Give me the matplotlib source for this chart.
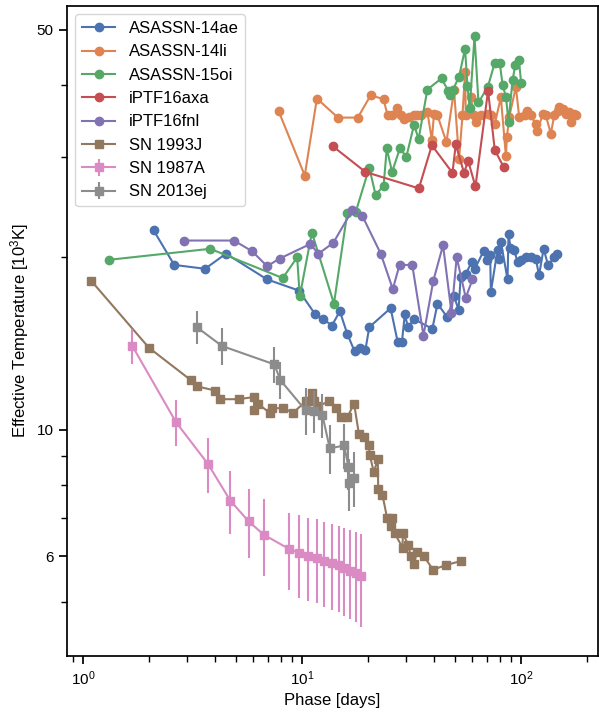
import numpy as np
import matplotlib
matplotlib.use("Agg")
import matplotlib.pyplot as plt
from matplotlib.ticker import FixedLocator, NullFormatter

plt.rcParams['font.family'] = ['Liberation Sans', 'DejaVu Sans']
plt.rcParams['mathtext.fontset'] = 'custom'
plt.rcParams['mathtext.rm'] = 'Liberation Sans'
plt.rcParams['mathtext.it'] = 'Liberation Sans:italic'

# phase [days], temperature [10^3 K]
asassn14ae_t = [2.10, 2.61, 3.61, 4.50, 6.93, 9.67, 11.5, 12.5, 13.7, 14.9, 16.1, 17.4, 18.5, 19.5, 20.3,
                25.4, 27.4, 28.6, 29.5, 30.5, 32.5, 39.4, 41.6, 46.2, 49.5, 51.9, 53.1, 56.0, 59.5, 61.6,
                67.5, 69.9, 72.4, 72.9, 78.2, 79.6, 81.0, 86.9, 87.8, 89.6, 93.2, 96.6, 100, 105, 111,
                117, 121, 127, 133, 142, 146]
asassn14ae_T = [22.3, 19.4, 19.1, 20.3, 18.3, 17.5, 15.9, 15.6, 15.2, 16.1, 14.7, 13.7, 13.9, 13.8, 15.1,
                16.3, 14.2, 14.2, 15.9, 15.1, 15.6, 15.0, 16.6, 15.7, 17.1, 16.2, 18.5, 18.7, 19.6, 19.1,
                20.5, 19.8, 20.2, 17.4, 20.6, 19.9, 21.3, 18.3, 22.0, 20.8, 20.6, 19.6, 19.8, 20.0, 20.0,
                19.9, 18.6, 20.7, 19.4, 20.0, 20.3]

asassn14li_t = [7.83, 10.3, 11.7, 14.6, 18.0, 20.6, 23.6, 24.6, 25.8, 27.3, 28.2, 29.3, 30.9, 32.5, 33.7,
                34.9, 37.4, 39.2, 40.1, 41.6, 45.7, 49.5, 52.2, 54.1, 55.6, 56.0, 59.0, 61.1, 62.2, 65.6,
                70.4, 72.9, 76.0, 81.0, 85.4, 86.3, 88.4, 94.9, 98.2, 104, 107, 111, 117, 119, 126,
                130, 137, 142, 147, 150, 155, 161, 166, 169, 175, 178]
asassn14li_T = [36.0, 27.8, 37.9, 35.1, 35.1, 38.4, 37.8, 35.4, 35.4, 36.5, 35.5, 34.9, 35.2, 35.4, 35.4,
                35.4, 35.9, 32.1, 35.6, 35.4, 31.8, 39.2, 29.7, 35.4, 42.2, 35.4, 38.1, 35.4, 34.5, 35.4,
                35.6, 35.4, 34.2, 38.1, 30.1, 32.4, 35.2, 39.7, 35.2, 35.4, 36.1, 35.4, 34.2, 33.3, 35.6,
                35.4, 32.9, 35.4, 36.1, 36.7, 36.4, 35.6, 35.9, 34.5, 35.6, 35.4]

asassn15oi_t = [1.31, 3.81, 8.17, 9.51, 9.77, 11.1, 14.0, 16.1, 17.6, 20.3, 21.7, 23.6, 24.4, 25.8, 28.0,
                30.0, 32.5, 34.1, 37.4, 43.4, 46.7, 47.2, 49.0, 52.2, 55.6, 57.0, 58.4, 61.4, 64.0, 70.6,
                76.0, 80.1, 82.5, 85.4, 87.8, 91.6, 94.2, 97.9, 100.3]
asassn15oi_T = [19.8, 20.7, 18.4, 20.0, 17.1, 22.1, 16.6, 23.9, 24.0, 28.7, 25.7, 26.7, 31.0, 28.2, 31.0,
                30.0, 34.1, 32.2, 39.3, 41.1, 39.0, 38.4, 39.3, 41.4, 46.3, 39.9, 36.5, 48.7, 37.3, 39.7,
                43.8, 43.7, 40.0, 38.2, 34.5, 40.8, 43.3, 44.3, 40.3]

iptf16axa_t = [13.8, 19.5, 34.2, 39.2, 48.7, 50.4, 55.0, 57.4, 62.0, 70.8, 76.0, 83.3]
iptf16axa_T = [31.3, 28.2, 26.4, 31.4, 28.1, 31.5, 28.1, 29.5, 26.6, 39.1, 30.8, 28.8]

iptf16fnl_t = [2.90, 4.89, 5.92, 6.93, 7.91, 10.9, 11.9, 13.9, 17.0, 18.9, 22.9, 26.0, 27.9, 31.9, 35.9,
               39.8, 44.1, 48.2, 50.9, 56.0, 60.1]
iptf16fnl_T = [21.4, 21.4, 20.5, 19.3, 19.9, 21.1, 20.3, 21.2, 24.2, 23.6, 20.3, 17.6, 19.4, 19.4, 14.6,
               18.2, 21.0, 16.0, 20.0, 17.0, 18.3]

sn1993j_t = [1.09, 2.00, 3.11, 3.31, 4.02, 4.21, 5.14, 6.02, 6.06, 6.28, 7.12, 7.30, 8.20, 9.11, 10.4,
             11.1, 11.3, 11.9, 13.3, 14.3, 15.0, 16.1, 17.3, 18.2, 19.2, 20.2, 20.4, 21.3, 22.2, 22.3,
             23.3, 24.5, 25.4, 25.9, 26.5, 28.8, 28.9, 30.5, 31.4, 32.5, 33.4, 36.1, 39.7, 45.7, 53.1]
sn1993j_T = [18.2, 13.9, 12.2, 11.9, 11.7, 11.3, 11.3, 11.4, 10.8, 11.1, 10.7, 10.9, 10.9, 10.7, 11.2,
             11.6, 11.2, 11.0, 11.2, 10.9, 10.5, 10.5, 11.1, 9.83, 9.70, 9.41, 9.03, 8.42, 8.89, 7.87,
             7.70, 7.00, 6.79, 7.00, 6.59, 6.22, 6.59, 6.29, 6.02, 5.81, 6.10, 6.00, 5.69, 5.80, 5.89]

sn1987a_t = [1.68, 2.66, 3.72, 4.71, 5.71, 6.69, 8.70, 9.74, 10.7, 11.7, 12.6, 13.7, 14.7, 15.5, 16.6,
             17.6, 18.7]
sn1987a_T = [14.0, 10.3, 8.71, 7.51, 6.91, 6.55, 6.19, 6.08, 6.01, 5.97, 5.90, 5.84, 5.79, 5.73, 5.67,
             5.61, 5.54]
sn1987a_err = [1.0, 0.95, 0.95, 0.95, 0.95, 1.0, 0.95, 1.0, 1.0, 1.0, 1.0, 1.0, 1.0, 1.0, 1.0, 1.0, 1.03]

sn2013ej_t = [3.31, 4.31, 7.48, 7.97, 10.4, 11.3, 12.4, 13.4, 15.6, 16.3, 16.4, 17.3]
sn2013ej_T = [15.1, 14.0, 13.0, 12.2, 10.8, 10.76, 10.6, 9.27, 9.38, 8.60, 8.05, 8.23]
sn2013ej_err = [1.0, 1.05, 0.95, 0.9, 1.0, 0.9, 0.95, 0.9, 0.85, 0.75, 0.85, 0.9]

colors = ['#4C72B0', '#DD8452', '#55A868', '#C44E52', '#8172B3', '#937860', '#DA8BC3', '#8C8C8C']

fig = plt.figure(figsize=(5.99, 7.16), dpi=100)
ax = fig.add_axes([67 / 599, 1 - 656 / 716, (598 - 67) / 599, (656 - 6) / 716])

circles = [('ASASSN-14ae', asassn14ae_t, asassn14ae_T),
           ('ASASSN-14li', asassn14li_t, asassn14li_T),
           ('ASASSN-15oi', asassn15oi_t, asassn15oi_T),
           ('iPTF16axa', iptf16axa_t, iptf16axa_T),
           ('iPTF16fnl', iptf16fnl_t, iptf16fnl_T)]
for i, (name, t, T) in enumerate(circles):
    ax.plot(t, T, marker='o', ms=6, lw=1.5, color=colors[i], label=name)

ax.plot(sn1993j_t, sn1993j_T, marker='s', ms=6, lw=1.5, color=colors[5], label='SN 1993J')
ax.errorbar(sn1987a_t, sn1987a_T, yerr=sn1987a_err, marker='s', ms=6, lw=1.5,
            elinewidth=1.5, capsize=0, color=colors[6], label='SN 1987A')
ax.errorbar(sn2013ej_t, sn2013ej_T, yerr=sn2013ej_err, marker='s', ms=6, lw=1.5,
            elinewidth=1.5, capsize=0, color=colors[7], label='SN 2013ej')

ax.set_xscale('log')
ax.set_yscale('log')
ax.set_xlim(0.845, 225)
ax.set_ylim(4.02, 55)

ax.yaxis.set_major_locator(FixedLocator([6, 10, 50]))
ax.yaxis.set_minor_locator(FixedLocator([5, 7, 8, 9, 20, 30, 40]))
ax.yaxis.set_major_formatter(matplotlib.ticker.FixedFormatter(['6', '10', '50']))
ax.yaxis.set_minor_formatter(NullFormatter())

ax.tick_params(which='major', length=6, width=1.25, labelsize=11)
ax.tick_params(which='minor', length=4, width=1.0)
for s in ax.spines.values():
    s.set_linewidth(1.25)

ax.set_xlabel('Phase [days]', fontsize=12)
ax.set_ylabel('Effective Temperature [10$^3$K]', fontsize=12)
ax.legend(loc='upper left', fontsize=12)

fig.savefig('out.png', dpi=100)
